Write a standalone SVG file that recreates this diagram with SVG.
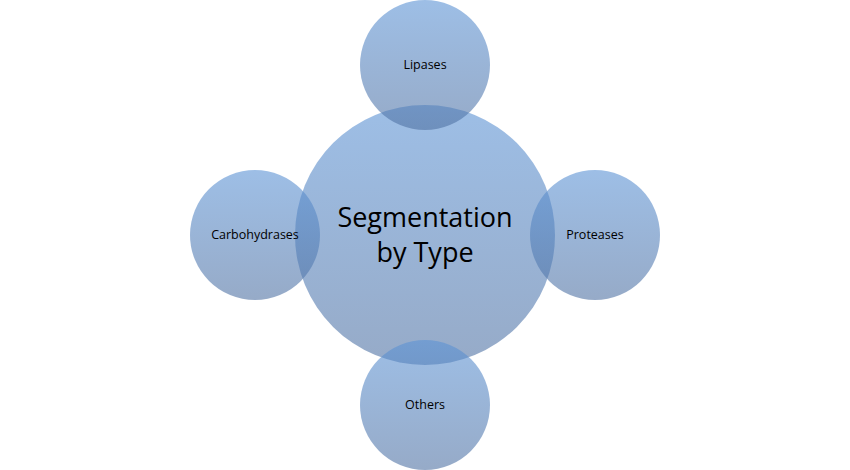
<svg xmlns="http://www.w3.org/2000/svg" width="850" height="470" viewBox="0 0 850 470">
<defs>
<linearGradient id="g" x1="0" y1="0" x2="0" y2="1">
<stop offset="0" stop-color="#5c93d5"/>
<stop offset="1" stop-color="#5072a3"/>
</linearGradient>
<style>
.c{fill:url(#g);fill-opacity:0.6}
.t{font-family:"Open Sans","Liberation Sans",sans-serif;fill:#000;text-anchor:middle}
.s{font-size:12.5px}
.b{font-size:27px}
</style>
</defs>
<rect width="850" height="470" fill="#fff"/>
<g id="center"><circle class="c" cx="425" cy="235" r="130"/></g>
<g id="lipases"><circle class="c" cx="425" cy="65" r="65"/></g>
<g id="carbohydrases"><circle class="c" cx="255" cy="235" r="65"/></g>
<g id="proteases"><circle class="c" cx="595" cy="235" r="65"/></g>
<g id="others"><circle class="c" cx="425" cy="405" r="65"/></g>
<g id="connectors"></g>
<g id="labels">
<text class="t b" x="425" y="227">Segmentation</text>
<text class="t b" x="425" y="262">by Type</text>
<text class="t s" x="425" y="69">Lipases</text>
<text class="t s" x="255" y="239">Carbohydrases</text>
<text class="t s" x="595" y="239">Proteases</text>
<text class="t s" x="425" y="409">Others</text>
</g>
</svg>
